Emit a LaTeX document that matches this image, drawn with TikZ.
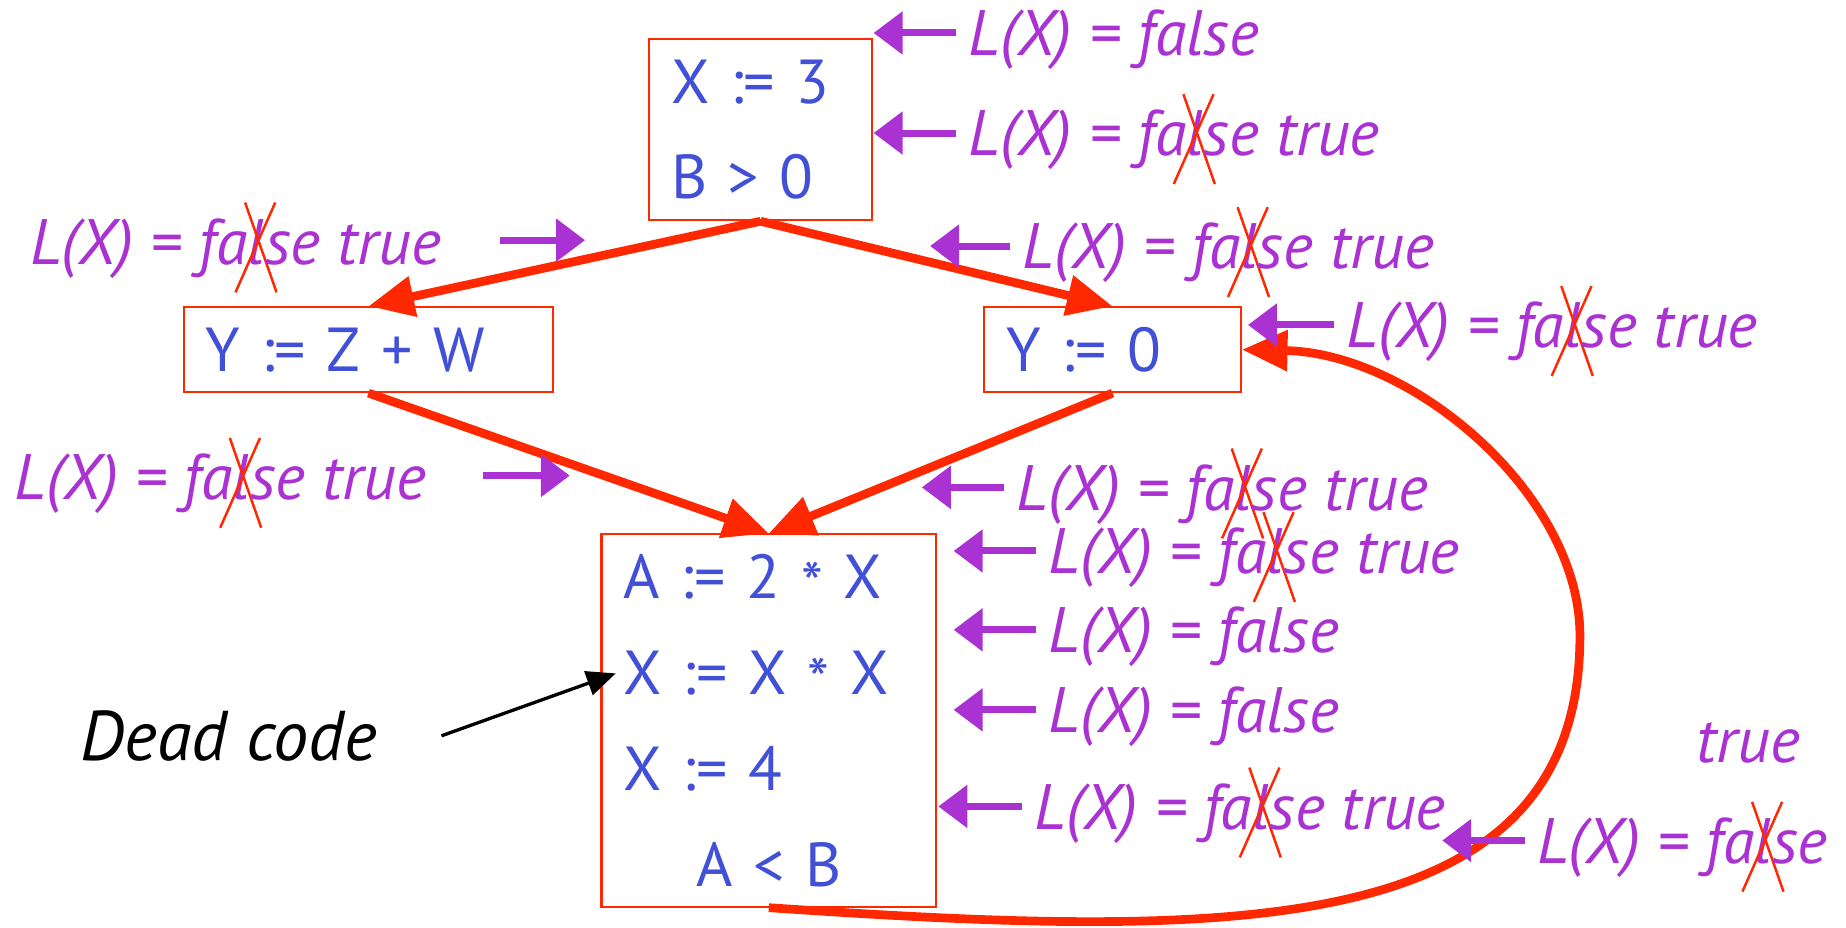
\documentclass[tikz,border=0pt]{standalone}
\usepackage{fontspec}
\setmainfont{PT Sans}
\usetikzlibrary{arrows.meta}
\definecolor{flowred}{RGB}{255,40,0}
\definecolor{annpurple}{RGB}{170,50,210}
\definecolor{codeblue}{RGB}{65,80,215}
% crossed-out l
\newcommand{\nol}{\tikz[baseline=(l.base)]{\node[inner sep=0pt, anchor=base] (l) at (0,0) {l}; \draw[overlay, flowred, line width=0.6pt] (-0.33em,-0.44em) -- (0.29em,0.96em) (-0.18em,0.96em) -- (0.31em,-0.44em);}}
\newcommand{\lx}{L(X) = }
\newcommand{\tms}{\raisebox{-0.25ex}{*}}

\begin{document}
\begin{tikzpicture}[x=0.01cm, y=-0.01cm,
  block/.style = {draw=flowred, line width=0.5pt, text=codeblue, align=left, inner xsep=0.19cm, font=\fontsize{15}{22.8}\selectfont},
  flow/.style = {flowred, line width=2.1pt, -{Triangle[length=11pt,width=9.5pt]}},
  ann/.style = {anchor=west, text=annpurple, inner xsep=0.1cm, inner ysep=0pt, text height=14pt, text depth=3pt, font=\itshape\fontsize{15.5}{18}\selectfont},
  annarrow/.style = {annpurple, line width=1.7pt, -{Triangle[length=7pt,width=10pt]}}]
\useasboundingbox (0,0) rectangle (1568,788);
% basic blocks
\node[block, minimum width=1.9cm, minimum height=1.54cm, text width=1.52cm] (b1) at (646,110) {X := 3\\B > 0};
\node[block, minimum width=3.12cm, minimum height=0.72cm, text width=2.76cm] (b2) at (313,297) {Y := Z + W};
\node[block, minimum width=2.16cm, minimum height=0.72cm, text width=1.80cm] (b3) at (945,297) {Y := 0};
\node[block, minimum width=2.84cm, minimum height=3.16cm, text width=2.46cm, font=\fontsize{15}{23.2}\selectfont] (b4) at (653,612) {A := 2 \tms{} X\\X := X \tms{} X\\X := 4\\\makebox[\linewidth]{A < B}};
% control flow
\draw[flow] (b1.south) -- (b2.north);
\draw[flow] (b1.south) -- (b3.north);
\draw[flow] (b2.south) -- (b4.north);
\draw[flow] (b3.south) -- (b4.north);
\coordinate (bend) at (1342,540);
\draw[flow] (b4.south) .. controls (1050,798) and (1342,800) .. (bend) .. controls (1342,420) and (1200,300) .. (b3.east);
% liveness annotations
\node[ann] (a1) at (812,28) {\lx false};
\node[ann] (a2) at (812,113) {\lx fa\nol se true};
\node[ann] (a4) at (858,209) {\lx fa\nol se true};
\node[ann] (a5) at (1133,276) {\lx fa\nol se true};
\node[ann] (a7) at (853,414) {\lx fa\nol se true};
\node[ann] (a8) at (880,468) {\lx fa\nol se true};
\node[ann] (a9) at (880,535) {\lx false};
\node[ann] (a10) at (880,603) {\lx false};
\node[ann] (a11) at (868,685) {\lx fa\nol se true};
\node[ann] (a12) at (1295,714) {\lx fa\nol se};
\node[ann, anchor=center] (a12t) at (1485,628) {true};
\node[ann, inner sep=0pt] (a3) at (25,205) {\lx fa\nol se true};
\node[ann, inner sep=0pt] (a6) at (12,405) {\lx fa\nol se true};
\foreach \n/\x/\y in {1/742/28, 2/742/113, 4/790/209, 5/1060/276, 7/783/414, 8/810/468, 9/810/535, 10/810/603, 11/797/685, 12/1225/714}
  \coordinate (h\n) at (\x,\y);
\foreach \n in {1,2,4,5,7,8,9,10,11,12}
  \draw[annarrow] (a\n.west) -- (h\n);
\coordinate (t3) at (425,204); \coordinate (h3) at (497,204);
\coordinate (t6) at (410,404); \coordinate (h6) at (484,404);
\draw[annarrow] (t3) -- (h3);
\draw[annarrow] (t6) -- (h6);
% dead code
\node[anchor=west, inner sep=0pt, font=\itshape\fontsize{17}{20}\selectfont] (dead) at (68,625) {Dead code};
\coordinate (dt) at (375,625); \coordinate (dh) at (523,572);
\draw[line width=0.8pt, -{Triangle[length=7pt,width=6pt]}] (dt) -- (dh);
\end{tikzpicture}
\end{document}
